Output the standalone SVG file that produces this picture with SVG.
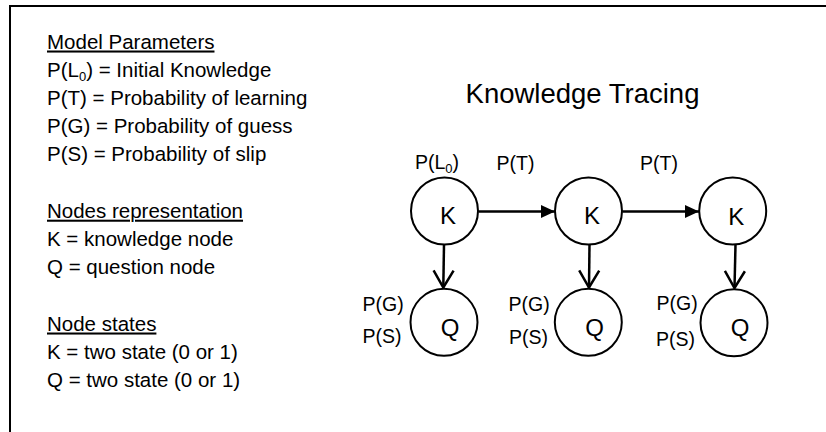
<svg xmlns="http://www.w3.org/2000/svg" width="826" height="432" viewBox="0 0 826 432">
  <style>
    text { font-family: "Liberation Sans", Arial, sans-serif; fill: #000; }
    .body { font-size: 20.5px; }
    .u { text-decoration: underline; }
    .lbl { font-size: 19.5px; }
    .node { fill: #fff; stroke: #000; stroke-width: 2; }
    .nl { font-size: 24px; text-anchor: middle; }
    .title { font-size: 27.5px; text-anchor: middle; }
    .h { stroke: #000; stroke-width: 2.5; fill: none; }
  </style>
  <defs>
    <marker id="tri" markerUnits="userSpaceOnUse" markerWidth="14" markerHeight="13" refX="14" refY="6.5" orient="auto" overflow="visible">
      <path d="M0,0 L14,6.5 L0,13 z" fill="#000"/>
    </marker>
    <marker id="vee" markerUnits="userSpaceOnUse" markerWidth="18" markerHeight="22" refX="17" refY="10" orient="auto" overflow="visible">
      <path d="M0,0 L17,10 L0,20" fill="none" stroke="#000" stroke-width="2.5" stroke-linejoin="miter"/>
    </marker>
  </defs>
  <rect width="826" height="432" fill="#fff"/>
  <path d="M10,432 V6 H826" fill="none" stroke="#000" stroke-width="2"/>

  <g id="legend">
    <text class="body u" x="47" y="48.5">Model Parameters</text>
    <text class="body" x="47" y="76.7">P(L<tspan font-size="13" dy="4">0</tspan><tspan dy="-4">) = Initial Knowledge</tspan></text>
    <text class="body" x="47" y="104.9">P(T) = Probability of learning</text>
    <text class="body" x="47" y="133.1">P(G) = Probability of guess</text>
    <text class="body" x="47" y="161.3">P(S) = Probability of slip</text>
    <text class="body u" x="47" y="217.7">Nodes representation</text>
    <text class="body" x="47" y="245.9">K = knowledge node</text>
    <text class="body" x="47" y="274.1">Q = question node</text>
    <text class="body u" x="47" y="330.5">Node states</text>
    <text class="body" x="47" y="358.7">K = two state (0 or 1)</text>
    <text class="body" x="47" y="386.9">Q = two state (0 or 1)</text>
  </g>

  <text id="title" class="title" x="582.5" y="102.7">Knowledge Tracing</text>

  <g id="connectors">
    <line class="h" x1="478.5" y1="211.5" x2="555" y2="211.5" marker-end="url(#tri)"/>
    <line class="h" x1="622.5" y1="211.5" x2="699" y2="211.5" marker-end="url(#tri)"/>
    <line class="h" x1="444" y1="244.5" x2="443.3" y2="287.5" marker-end="url(#vee)"/>
    <line class="h" x1="589.5" y1="244.5" x2="589" y2="287.5" marker-end="url(#vee)"/>
    <line class="h" x1="735.5" y1="244.5" x2="734.5" y2="288" marker-end="url(#vee)"/>
  </g>

  <g id="labels">
    <text class="lbl" x="415" y="169">P(L<tspan font-size="13" dy="4">0</tspan><tspan dy="-4">)</tspan></text>
    <text class="lbl" x="496.5" y="169.5">P(T)</text>
    <text class="lbl" x="640" y="169.5">P(T)</text>
    <text class="lbl" x="362.5" y="310.7">P(G)</text>
    <text class="lbl" x="362.5" y="342.7">P(S)</text>
    <text class="lbl" x="508.5" y="310.7">P(G)</text>
    <text class="lbl" x="509" y="344">P(S)</text>
    <text class="lbl" x="656.5" y="310">P(G)</text>
    <text class="lbl" x="656" y="346">P(S)</text>
  </g>

  <g id="k1"><circle class="node" cx="444.5" cy="211" r="33.5"/><text class="nl" x="448" y="224">K</text></g>
  <g id="k2"><circle class="node" cx="588.5" cy="211" r="33.5"/><text class="nl" x="592" y="224">K</text></g>
  <g id="k3"><circle class="node" cx="732.7" cy="211" r="33.5"/><text class="nl" x="736.3" y="224.5">K</text></g>
  <g id="q1"><circle class="node" cx="444" cy="322.3" r="33.5"/><text class="nl" x="450" y="335.5">Q</text></g>
  <g id="q2"><circle class="node" cx="588.3" cy="322.3" r="33.5"/><text class="nl" x="594.5" y="335.5">Q</text></g>
  <g id="q3"><circle class="node" cx="734" cy="322.8" r="33.5"/><text class="nl" x="740" y="336">Q</text></g>
</svg>
